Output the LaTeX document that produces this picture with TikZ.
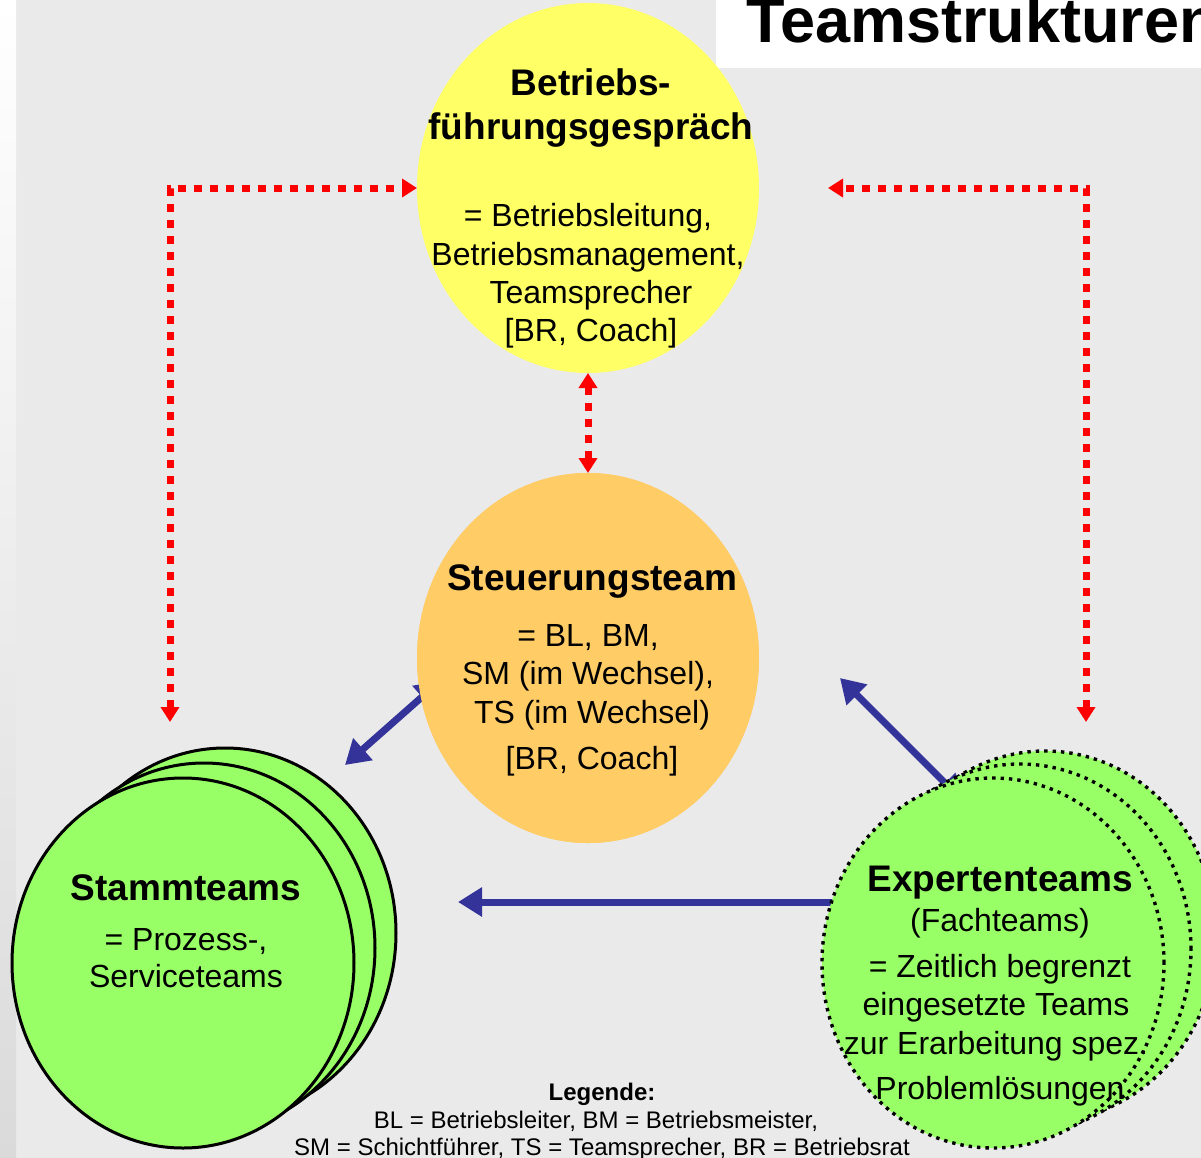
\documentclass[tikz,border=0pt]{standalone}
\usepackage{fontspec}
\setmainfont{Liberation Sans}
\usetikzlibrary{arrows.meta,shapes.geometric}

\definecolor{bggray}{RGB}{234,234,234}
\definecolor{stripgray}{RGB}{218,218,218}
\definecolor{circyellow}{RGB}{255,255,102}
\definecolor{circorange}{RGB}{255,204,102}
\definecolor{circgreen}{RGB}{153,255,102}
\definecolor{linkblue}{RGB}{51,51,153}
\definecolor{linkred}{RGB}{255,0,0}

\tikzset{
  bubble/.style={ellipse, inner sep=0pt, outer sep=0pt,
    minimum width=171pt, minimum height=185pt},
  solidrim/.style={bubble, fill=circgreen, draw=black, line width=1.5pt},
  dottedrim/.style={bubble, fill=circgreen, draw=black, line width=1.7pt,
    dash pattern=on 1.7pt off 2.5pt},
  headtxt/.style={anchor=base, inner sep=0pt,
    font=\fontsize{18.5}{22}\selectfont\bfseries},
  bodytxt/.style={anchor=base, inner sep=0pt,
    font=\fontsize{16}{19}\selectfont},
  legtxt/.style={anchor=base, inner sep=0pt,
    font=\fontsize{12}{14}\selectfont},
  redlink/.style={draw=linkred, line width=3.5pt, dash pattern=on 4pt off 4pt,
    {Triangle[length=7.5pt,width=9pt]}-{Triangle[length=7.5pt,width=9pt]}},
  bluelink/.style={draw=linkblue, line width=3.5pt,
    {Triangle[length=12pt,width=14pt]}-{Triangle[length=12pt,width=14pt]}},
}

\begin{document}
\begin{tikzpicture}[x=0.5pt,y=-0.5pt]
  \useasboundingbox (0,0) rectangle (1201,1158);
  \clip (0,0) rectangle (1201,1158);

  % background and left border strip
  \fill[bggray] (0,0) rectangle (1201,1158);
  \shade[top color=white, bottom color=stripgray] (0,0) rectangle (16,1158);

  % heading box
  \fill[white] (716,0) rectangle (1201,68);
  \node[anchor=base west, inner sep=0pt,
        font=\fontsize{31.5}{36}\selectfont\bfseries] (title) at (746,42) {Teamstrukturen};

  % free ends of the connectors
  \coordinate (lefttip)  at (170,722);
  \coordinate (righttip) at (1086,722);
  \coordinate (rightend) at (828,188);
  \coordinate (sbStart)  at (440,681);
  \coordinate (sbTip)    at (345,765);
  \coordinate (esStart)  at (962,800);
  \coordinate (esTip)    at (840,678);
  \coordinate (exStart)  at (870,902);
  \coordinate (exTip)    at (458,902);

  % circles
  \node[bubble, fill=circyellow] (betr)   at (588,188) {};
  \node[bubble, fill=circorange] (steuer) at (588,658) {};

  % blue links (their start ends lie underneath the circles)
  \draw[bluelink] (sbStart) -- (sbTip);
  \draw[bluelink] (esStart) -- (esTip);
  \draw[bluelink] (exStart) -- (exTip);
  \node[bubble, fill=circorange] at (steuer) {};

  % red dotted links
  \draw[redlink] (lefttip) |- (betr.west);
  \draw[redlink] (righttip) |- (rightend);
  \draw[redlink] (betr.south) -- (steuer.north);

  % stacked team circles
  \node[solidrim] (stammC) at (225,933) {};
  \node[solidrim] (stammB) at (204,948) {};
  \node[solidrim] (stammA) at (183,963) {};

  \node[dottedrim] (expC) at (1045,936) {};
  \node[dottedrim] (expB) at (1020,949) {};
  \node[dottedrim] (expA) at (993,963) {};

  % texts: Betriebsfuehrungsgespraech
  \node[headtxt] (t1) at (591,95)  {Betriebs-};
  \node[headtxt] (t2) at (591,139) {führungsgespräch};
  \node[bodytxt] (t3) at (588,226) {= Betriebsleitung,};
  \node[bodytxt] (t4) at (588,265) {Betriebsmanagement,};
  \node[bodytxt] (t5) at (591,303) {Teamsprecher};
  \node[bodytxt] (t6) at (591,341) {[BR, Coach]};

  % texts: Steuerungsteam
  \node[headtxt] (s1) at (592,590) {Steuerungsteam};
  \node[bodytxt] (s2) at (588,646) {= BL, BM,};
  \node[bodytxt] (s3) at (588,684) {SM (im Wechsel),};
  \node[bodytxt] (s4) at (592,723) {TS (im Wechsel)};
  \node[bodytxt] (s5) at (592,769) {[BR, Coach]};

  % texts: Stammteams
  \node[headtxt] (a1) at (186,900) {Stammteams};
  \node[bodytxt] (a2) at (186,950) {= Prozess-,};
  \node[bodytxt] (a3) at (186,987) {Serviceteams};

  % texts: Expertenteams
  \node[headtxt] (e1) at (1000,891)  {Expertenteams};
  \node[bodytxt] (e2) at (1000,931)  {(Fachteams)};
  \node[bodytxt] (e3) at (1000,977)  {= Zeitlich begrenzt};
  \node[bodytxt] (e4) at (996,1015)  {eingesetzte Teams};
  \node[bodytxt] (e5) at (996,1054)  {zur Erarbeitung spez.};
  \node[bodytxt] (e6) at (1000,1099) {Problemlösungen};

  % legend
  \node[legtxt, font=\fontsize{12}{14}\selectfont\bfseries] (l1) at (602,1100) {Legende:};
  \node[legtxt] (l2) at (596,1128) {BL = Betriebsleiter, BM = Betriebsmeister,};
  \node[legtxt] (l3) at (602,1155) {SM = Schichtführer, TS = Teamsprecher, BR = Betriebsrat};
\end{tikzpicture}
\end{document}
